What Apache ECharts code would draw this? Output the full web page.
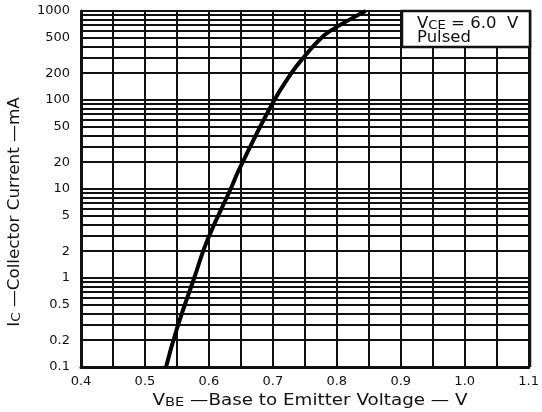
<!DOCTYPE html>
<html>
<head>
<meta charset="utf-8">
<script src="https://cdn.jsdelivr.net/npm/echarts@6/dist/echarts.min.js"></script>
<style>html,body{margin:0;padding:0;background:#fff}#c{width:542px;height:412px}</style>
</head>
<body>
<div id="c"></div>
<script>
// V_BE (V) and I_C (mA)
var vbe = [0.533, 0.550, 0.577, 0.598, 0.634, 0.648, 0.698, 0.729, 0.748, 0.776, 0.795, 0.820, 0.845];
var ic  = [0.1,   0.27,  1.0,   2.7,   10,    17,    88,    200,   300,   500,   630,   800,   1000];
// Y tick labels
var yTickLabels = [0.1, 0.2, 0.5, 1, 2, 5, 10, 20, 50, 100, 200, 500, 1000];
// X tick labels
var xTickLabels = ['0.4', '0.5', '0.6', '0.7', '0.8', '0.9', '1.0', '1.1'];
// horizontal log grid lines
var yGridLines = [0.1,0.2,0.3,0.4,0.5,0.6,0.7,0.8,0.9,
                  1,2,3,4,5,6,7,8,9,
                  10,20,30,40,50,60,70,80,90,
                  100,200,300,400,500,600,700,800,900,1000];

var chart = echarts.init(document.getElementById('c'), null, {renderer: 'canvas'});
var font = 'DejaVu Sans';
var ink = '#111';
var curve = vbe.map(function (v, i) { return [v, ic[i]]; });

chart.setOption({
  animation: false,
  backgroundColor: '#fff',
  grid: {left: 81, right: 12, top: 11, bottom: 45, containLabel: false},
  xAxis: {
    type: 'value', min: 0.4, max: 1.1, interval: 0.05,
    axisLine: {show: true, lineStyle: {color: ink, width: 3}},
    axisTick: {show: false},
    splitLine: {show: true, lineStyle: {color: ink, width: 2}},
    axisLabel: {
      color: ink, fontFamily: font, fontSize: 13, margin: 8,
      formatter: function (v) {
        if (Math.abs(v * 10 - Math.round(v * 10)) > 1e-6) return '';
        var t = v.toFixed(1);
        return xTickLabels.indexOf(t) >= 0 ? t : '';
      }
    }
  },
  yAxis: {
    type: 'log', logBase: 10, min: 0.1, max: 1000,
    axisLine: {show: true, lineStyle: {color: ink, width: 3}},
    axisTick: {show: false},
    splitLine: {show: false},
    axisLabel: {
      color: ink, fontFamily: font, fontSize: 13, margin: 11,
      customValues: yTickLabels,
      formatter: function (v) { return String(+(+v).toPrecision(3)); }
    }
  },
  series: [{
    type: 'line',
    data: curve,
    smooth: 0.5,
    showSymbol: false,
    lineStyle: {color: '#000', width: 4},
    z: 5,
    markLine: {
      silent: true, symbol: 'none', animation: false,
      label: {show: false},
      lineStyle: {color: ink, width: 2, type: 'solid'},
      data: yGridLines.map(function (g) { return {yAxis: g}; }),
      z: 1
    }
  }],
  graphic: [
    {type: 'line', shape: {x1: 530, y1: 11, x2: 530, y2: 367}, style: {stroke: ink, lineWidth: 2.5}, z: 10},
    {type: 'rect', shape: {x: 402, y: 11, width: 128, height: 36}, style: {fill: '#fff', stroke: ink, lineWidth: 2.5}, z: 20},
    {type: 'text', x: 417, y: 14, z: 21, scaleX: 1.1, style: {
      text: '{v|V}{s|CE}{v| = 6.0  V}', rich: {
        v: {fontFamily: font, fontSize: 15, fill: ink, lineHeight: 18, verticalAlign: 'bottom'},
        s: {fontFamily: font, fontSize: 12, fill: ink, lineHeight: 18, verticalAlign: 'bottom'}
      }}},
    {type: 'text', x: 417, y: 31, z: 21, scaleX: 1.1, style: {text: 'Pulsed', fontFamily: font, fontSize: 15, fill: ink}},
    // x axis title
    {type: 'text', x: 310, y: 399, z: 21, scaleX: 1.22, style: {
      text: '{v|V}{s|BE}{v| —Base to Emitter Voltage — V}', align: 'center', verticalAlign: 'middle', rich: {
        v: {fontFamily: font, fontSize: 15, fill: ink, lineHeight: 20, verticalAlign: 'bottom'},
        s: {fontFamily: font, fontSize: 12, fill: ink, lineHeight: 20, verticalAlign: 'bottom'}
      }}},
    // y axis title
    {type: 'text', x: 13, y: 212, z: 21, rotation: Math.PI / 2, scaleX: 1.12, style: {
      text: '{v|I}{s|C}{v| —Collector Current —mA}', align: 'center', verticalAlign: 'middle', rich: {
        v: {fontFamily: font, fontSize: 15, fill: ink, lineHeight: 20, verticalAlign: 'bottom'},
        s: {fontFamily: font, fontSize: 12, fill: ink, lineHeight: 20, verticalAlign: 'bottom'}
      }}}
  ]
});
</script>
</body>
</html>
